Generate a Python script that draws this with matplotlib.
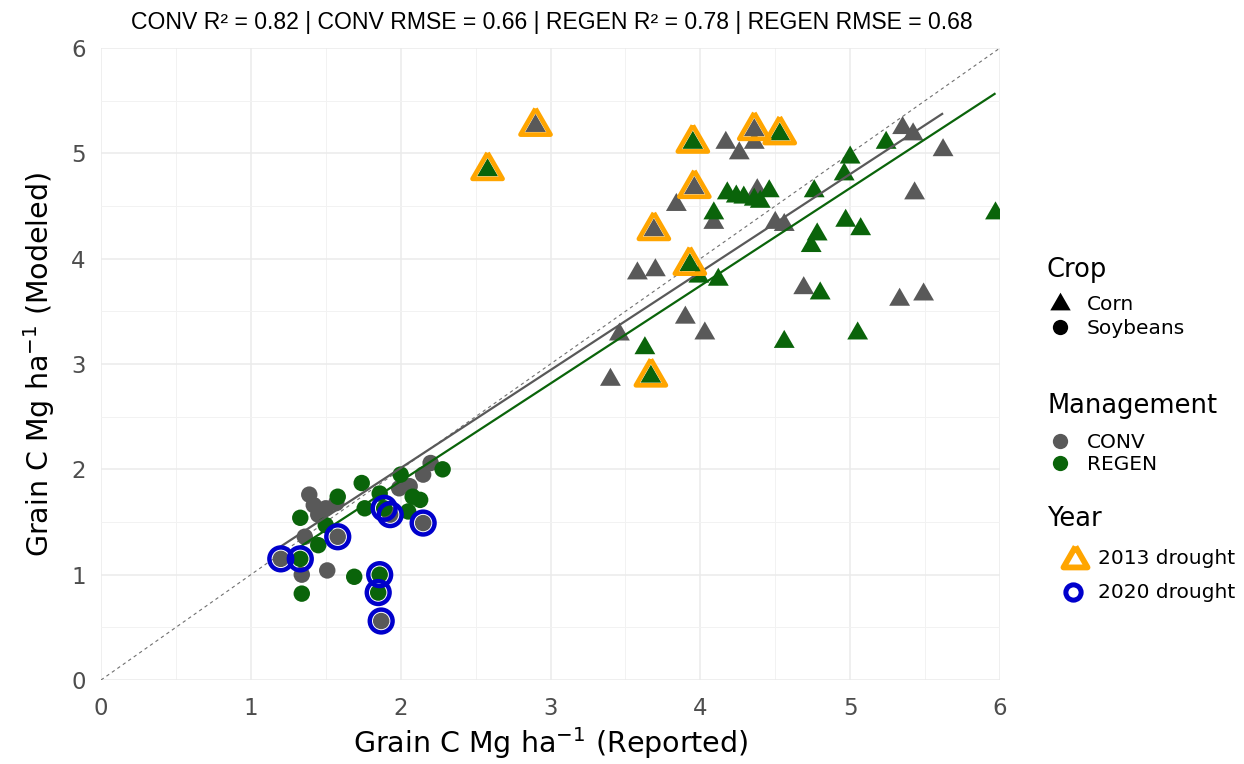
import numpy as np
import matplotlib
matplotlib.use("Agg")
import matplotlib.pyplot as plt
from matplotlib.lines import Line2D
from matplotlib import font_manager

# ---------------- data ----------------
# drought flag: 0 = none, 2013 = 2013 drought, 2020 = 2020 drought
conv_corn_x = [2.90, 4.36, 3.96, 3.69, 4.17, 4.26, 4.36, 3.84, 4.38, 4.09, 4.50, 4.56,
               3.58, 3.70, 3.90, 4.03, 3.46, 3.40, 5.35, 5.42, 5.62, 5.43, 4.69, 5.33, 5.49]
conv_corn_y = [5.26, 5.22, 4.67, 4.27, 5.10, 5.00, 5.10, 4.51, 4.65, 4.34, 4.34, 4.32,
               3.86, 3.89, 3.44, 3.29, 3.28, 2.85, 5.24, 5.18, 5.03, 4.62, 3.72, 3.61, 3.66]
conv_corn_flag = [2013, 2013, 2013, 2013] + [0] * 21

regen_corn_x = [2.58, 3.95, 4.53, 3.93, 3.67, 4.18, 4.24, 4.29, 4.36, 4.40, 4.46, 4.09,
                3.99, 4.12, 3.63, 5.24, 5.00, 4.96, 4.76, 5.97, 4.97, 5.07, 4.78, 4.74,
                4.80, 4.56, 5.05]
regen_corn_y = [4.84, 5.10, 5.18, 3.94, 2.88, 4.62, 4.59, 4.58, 4.56, 4.54, 4.64, 4.43,
                3.83, 3.80, 3.15, 5.10, 4.96, 4.80, 4.64, 4.43, 4.36, 4.28, 4.23, 4.12,
                3.67, 3.21, 3.29]
regen_corn_flag = [2013, 2013, 2013, 2013, 2013] + [0] * 22

conv_soy_x = [1.20, 1.58, 1.93, 2.15, 1.87, 1.34, 1.51, 1.39, 1.42, 1.45, 1.50, 1.57,
              1.36, 2.06, 1.99, 2.15, 2.20]
conv_soy_y = [1.15, 1.36, 1.57, 1.49, 0.56, 1.00, 1.04, 1.76, 1.66, 1.57, 1.63, 1.68,
              1.36, 1.84, 1.82, 1.95, 2.06]
conv_soy_flag = [2020, 2020, 2020, 2020, 2020] + [0] * 12

regen_soy_x = [1.33, 1.89, 1.86, 1.85, 1.33, 1.34, 1.69, 1.45, 1.50, 1.58, 1.74, 1.76,
               1.86, 2.00, 2.08, 2.13, 2.05, 2.28]
regen_soy_y = [1.15, 1.63, 1.00, 0.83, 1.54, 0.82, 0.98, 1.28, 1.47, 1.74, 1.87, 1.63,
               1.77, 1.95, 1.74, 1.71, 1.60, 2.00]
regen_soy_flag = [2020, 2020, 2020, 2020] + [0] * 14

title_text = ("CONV R\u00b2 = 0.82 | CONV RMSE = 0.66 | "
              "REGEN R\u00b2 = 0.78 | REGEN RMSE = 0.68")
axis_ticks = [0, 1, 2, 3, 4, 5, 6]

# ---------------- styling ----------------
GRAY = "#595959"
GREEN = "#0a640a"
ORANGE = "#FFA500"
BLUE = "#0000CC"
TICK_COL = "#4D4D4D"

plt.rcParams["font.family"] = ["DejaVu Sans"]
plt.rcParams["mathtext.fontset"] = "dejavusans"

names = {f.name for f in font_manager.fontManager.ttflist}
title_font = "Liberation Sans Narrow" if "Liberation Sans Narrow" in names else "Liberation Sans"

TRI = [(0.0, 1.0), (-0.866, -0.5), (0.866, -0.5), (0.0, 1.0)]

W, H = 1244, 764
fig = plt.figure(figsize=(W / 100, H / 100), dpi=100)
ax = fig.add_axes([101 / W, 1 - 680 / H, 899 / W, 632 / H])

ax.set_xlim(0, 6)
ax.set_ylim(0, 6)
for s in ax.spines.values():
    s.set_visible(False)
ax.set_xticks(axis_ticks)
ax.set_yticks(axis_ticks)
ax.set_xticks(np.arange(0.5, 6, 1.0), minor=True)
ax.set_yticks(np.arange(0.5, 6, 1.0), minor=True)
ax.grid(True, which="major", color="#EBEBEB", lw=1.1)
ax.grid(True, which="minor", color="#F2F2F2", lw=0.7)
ax.set_axisbelow(True)
ax.tick_params(which="both", length=0)
ax.tick_params(axis="x", pad=12, labelsize=16.5, labelcolor=TICK_COL)
ax.tick_params(axis="y", pad=11, labelsize=16.5, labelcolor=TICK_COL)

# 1:1 line
ax.plot([0, 6], [0, 6], ls=(0, (3, 3)), color="#707070", lw=0.8, zorder=1)

groups = [
    (conv_corn_x, conv_corn_y, conv_corn_flag, GRAY, TRI, 300),
    (regen_corn_x, regen_corn_y, regen_corn_flag, GREEN, TRI, 300),
    (conv_soy_x, conv_soy_y, conv_soy_flag, GRAY, "o", 140),
    (regen_soy_x, regen_soy_y, regen_soy_flag, GREEN, "o", 140),
]
for gx, gy, gf, col, mk, sz in groups:
    ax.scatter(gx, gy, marker=mk, s=sz, color=col, edgecolors="none", zorder=3)

# regression lines per management
for xs, ys, col in [
    (conv_corn_x + conv_soy_x, conv_corn_y + conv_soy_y, GRAY),
    (regen_corn_x + regen_soy_x, regen_corn_y + regen_soy_y, GREEN),
]:
    xs = np.asarray(xs)
    ys = np.asarray(ys)
    b, a = np.polyfit(xs, ys, 1)
    xx = np.array([xs.min(), xs.max()])
    ax.plot(xx, a + b * xx, color=col, lw=1.6, zorder=4, solid_capstyle="butt")

# drought outlines
for gx, gy, gf, col, mk, sz in groups:
    gx = np.asarray(gx)
    gy = np.asarray(gy)
    gf = np.asarray(gf)
    m13 = gf == 2013
    m20 = gf == 2020
    if m13.any():
        ax.scatter(gx[m13], gy[m13], marker=TRI, s=620, facecolors="none",
                   edgecolors=ORANGE, linewidths=3.4, zorder=5)
    if m20.any():
        ax.scatter(gx[m20], gy[m20], marker="o", s=270, facecolors="none",
                   edgecolors=BLUE, linewidths=3.2, zorder=5)

ax.set_xlabel("Grain C Mg ha$^{-1}$ (Reported)", fontsize=20.5, color="black", labelpad=4)
ax.set_ylabel("Grain C Mg ha$^{-1}$ (Modeled)", fontsize=20.5, color="black", labelpad=10)

fig.text(552 / W, 1 - 22 / H, title_text, ha="center", va="center",
         fontsize=16.6, family=title_font, color="black")

# ---------------- legends (drawn manually) ----------------
def fx(x):
    return x / W

def fy(y):
    return 1 - y / H

def legend_marker(x, y, **kw):
    fig.add_artist(Line2D([fx(x)], [fy(y)], transform=fig.transFigure, ls="none", **kw))

TITLE_FS = 18.5
LAB_FS = 14.5

fig.text(fx(1047), fy(270), "Crop", fontsize=TITLE_FS, va="center", ha="left")
legend_marker(1060, 304, marker=TRI, ms=17, color="black", mec="none")
fig.text(fx(1087), fy(305), "Corn", fontsize=LAB_FS, va="center", ha="left")
legend_marker(1060, 327, marker="o", ms=11, color="black", mec="none")
fig.text(fx(1087), fy(328), "Soybeans", fontsize=LAB_FS, va="center", ha="left")

fig.text(fx(1047), fy(406), "Management", fontsize=TITLE_FS, va="center", ha="left")
legend_marker(1060, 441, marker="o", ms=11, color=GRAY, mec="none")
fig.text(fx(1087), fy(442), "CONV", fontsize=LAB_FS, va="center", ha="left")
legend_marker(1060, 463, marker="o", ms=11, color=GREEN, mec="none")
fig.text(fx(1087), fy(464), "REGEN", fontsize=LAB_FS, va="center", ha="left")

fig.text(fx(1047), fy(519), "Year", fontsize=TITLE_FS, va="center", ha="left")
legend_marker(1075, 560, marker=TRI, ms=20, mfc="none", mec=ORANGE, mew=4.2)
fig.text(fx(1098), fy(559), "2013 drought", fontsize=LAB_FS, va="center", ha="left")
legend_marker(1073, 592, marker="o", ms=11, mfc="none", mec=BLUE, mew=3.6)
fig.text(fx(1098), fy(592), "2020 drought", fontsize=LAB_FS, va="center", ha="left")

fig.savefig("out.png", dpi=100)
